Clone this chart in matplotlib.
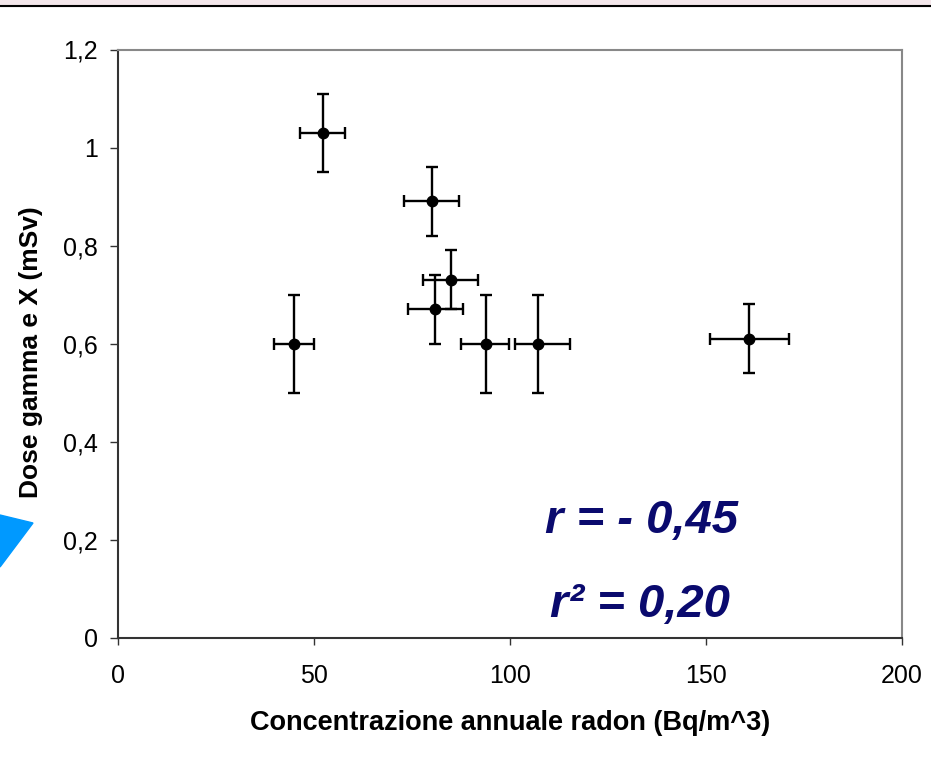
import numpy as np
import matplotlib.pyplot as plt
from matplotlib.patches import Polygon, Rectangle

# dati
radon = [45.1, 52.3, 80.1, 84.9, 81.0, 94.0, 107.1, 160.9]
radon_err_lo = [5.1, 5.7, 7.0, 6.9, 7.0, 6.4, 5.7, 9.8]
radon_err_hi = [5.1, 5.7, 7.0, 6.9, 7.0, 5.8, 8.3, 10.4]
dose = [0.60, 1.03, 0.89, 0.73, 0.67, 0.60, 0.60, 0.61]
dose_err = [0.10, 0.08, 0.07, 0.06, 0.07, 0.10, 0.10, 0.07]

x_ticks = [0, 50, 100, 150, 200]
y_ticks = [0, 0.2, 0.4, 0.6, 0.8, 1.0, 1.2]
y_tick_labels = ['0', '0,2', '0,4', '0,6', '0,8', '1', '1,2']

plt.rcParams['font.family'] = ['Liberation Sans', 'DejaVu Sans']

fig = plt.figure(figsize=(9.31, 7.64), dpi=100)
fig.patch.set_facecolor('white')

# decorazioni della slide (banda in alto e triangolo blu)
fig.patches.append(Rectangle((0, 0.992), 1, 0.008, transform=fig.transFigure,
                             color='#f3e6ea', zorder=0))
fig.add_artist(plt.Line2D([0, 1], [0.992, 0.992], transform=fig.transFigure,
                          color='black', linewidth=1.5))
fig.patches.append(Polygon([[0, 1 - 515 / 764], [33 / 931, 1 - 523 / 764],
                            [0, 1 - 567 / 764]], closed=True,
                           transform=fig.transFigure, color='#0099ff'))

ax = fig.add_axes([117.5 / 931, 1 - 637.7 / 764, 784.5 / 931, 588.2 / 764])

ax.errorbar(radon, dose, xerr=[radon_err_lo, radon_err_hi], yerr=dose_err,
            fmt='o', color='black', markersize=7.5, elinewidth=1.7,
            capsize=4.5, capthick=1.7, zorder=3)

ax.set_xlim(0, 200)
ax.set_ylim(0, 1.2)
ax.set_xticks(x_ticks)
ax.set_yticks(y_ticks)
ax.set_yticklabels(y_tick_labels)
ax.tick_params(axis='y', direction='out', length=6, width=1, pad=8,
               labelsize=18, color='#333333')
ax.tick_params(axis='x', direction='out', length=5, width=1, pad=14,
               labelsize=18, color='#333333')

for side in ['left', 'bottom']:
    ax.spines[side].set_color('#333333')
    ax.spines[side].set_linewidth(1.5)
for side in ['top', 'right']:
    ax.spines[side].set_color('#888888')
    ax.spines[side].set_linewidth(1.5)

ax.set_xlabel('Concentrazione annuale radon (Bq/m^3)', fontsize=19.5,
              fontweight='bold', labelpad=16)
ax.set_ylabel('Dose gamma e X (mSv)', fontsize=19, fontweight='bold')
ax.yaxis.set_label_coords(-0.095, 0.486)

ax.text(0.668, 0.198, 'r = - 0,45', transform=ax.transAxes, fontsize=34,
        fontweight='bold', fontstyle='italic', color='#0a0a6e',
        ha='center', va='center')
ax.text(0.666, 0.055, 'r² = 0,20', transform=ax.transAxes, fontsize=34,
        fontweight='bold', fontstyle='italic', color='#0a0a6e',
        ha='center', va='center')

fig.savefig('out.png', dpi=100)
